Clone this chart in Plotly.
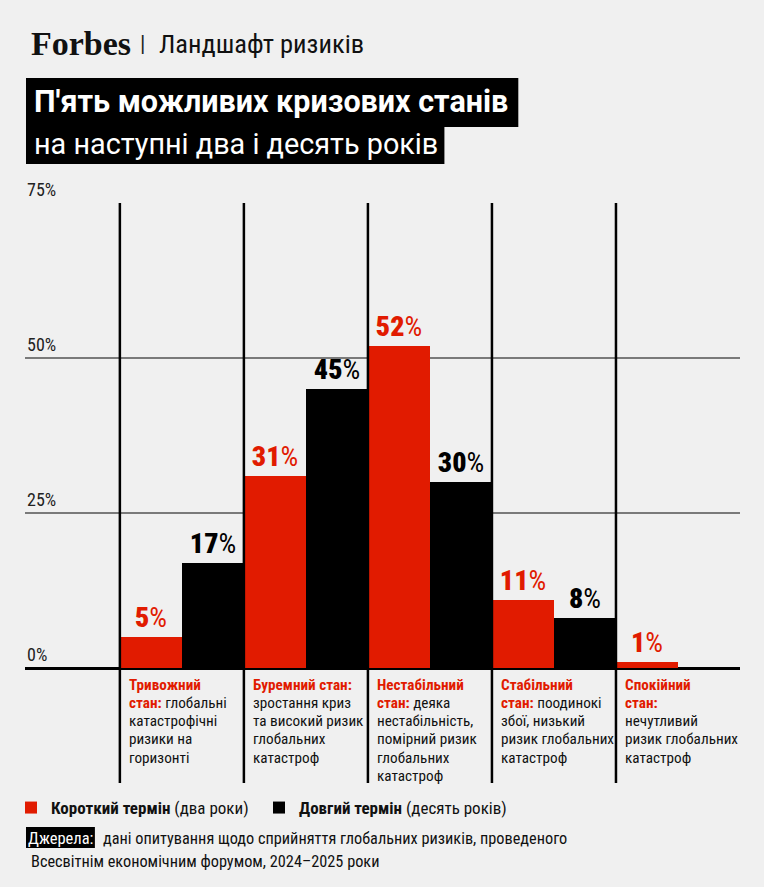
import plotly.graph_objects as go

# ---------------- data ----------------
categories = ["Тривожний стан", "Буремний стан", "Нестабільний стан", "Стабільний стан", "Спокійний стан"]
short_term = [5, 31, 52, 11, 1]      # Короткий термін (два роки)
long_term = [17, 45, 30, 8, 0]       # Довгий термін (десять років)
y_tick_vals = [0, 25, 50, 75]
y_tick_text = ["0%", "25%", "50%", "75%"]

# category descriptions: (red heading part, black part) per line
cat_lines = [
    [("Тривожний", ""), ("стан:", " глобальні"), ("", "катастрофічні"), ("", "ризики на"), ("", "горизонті")],
    [("Буремний стан:", ""), ("", "зростання криз"), ("", "та високий ризик"), ("", "глобальних"), ("", "катастроф")],
    [("Нестабільний", ""), ("стан:", " деяка"), ("", "нестабільність,"), ("", "помірний ризик"), ("", "глобальних"), ("", "катастроф")],
    [("Стабільний", ""), ("стан:", " поодинокі"), ("", "збої, низький"), ("", "ризик глобальних"), ("", "катастроф")],
    [("Спокійний", ""), ("стан:", ""), ("", "нечутливий"), ("", "ризик глобальних"), ("", "катастроф")],
]

RED = "#E11B00"
BLACK = "#000000"
BG = "#F0F0F0"
NARROW = "Liberation Sans Narrow, Roboto Condensed, DejaVu Sans Condensed, sans-serif"

W, H = 764, 887
L, R, T, B = 24, 740, 203, 668       # plot area in pixels
CAT_LEFT = 119
cat_w = (R - CAT_LEFT) / len(categories)
x_lo = -0.5 - (CAT_LEFT - L) / cat_w
x_hi = len(categories) - 0.5


def py(p):
    return (B - p) / (B - T)


def px(p):
    return (p - L) / (R - L)


def val_text(vals):
    return [("" if v == 0 else f"<span style='font-weight:900'>{v}</span>%") for v in vals]


fig = go.Figure()
fig.add_trace(go.Bar(
    x=list(range(len(categories))), y=short_term, name="<b>Короткий термін</b> (два роки)",
    marker=dict(color=RED, line=dict(width=0)),
    text=val_text(short_term), textposition="outside", constraintext="none",
    textfont=dict(family=NARROW, size=28, color=RED), cliponaxis=False,
    legend="legend", hoverinfo="skip",
))
fig.add_trace(go.Bar(
    x=list(range(len(categories))), y=long_term, name="<b>Довгий термін</b> (десять років)",
    marker=dict(color=BLACK, line=dict(width=0)),
    text=val_text(long_term), textposition="outside", constraintext="none",
    textfont=dict(family=NARROW, size=28, color=BLACK), cliponaxis=False,
    legend="legend2", hoverinfo="skip",
))

shapes = []
# vertical category separators
for i in range(len(categories)):
    shapes.append(dict(type="line", xref="x", yref="paper", x0=i - 0.5, x1=i - 0.5,
                       y0=py(783), y1=1, line=dict(color=BLACK, width=2.5), layer="above"))
# title boxes
shapes.append(dict(type="rect", xref="paper", yref="paper", x0=px(25), x1=px(518), y0=py(127), y1=py(78),
                   fillcolor=BLACK, line=dict(width=0)))
shapes.append(dict(type="rect", xref="paper", yref="paper", x0=px(25), x1=px(444), y0=py(164), y1=py(126),
                   fillcolor=BLACK, line=dict(width=0)))
# source label box
shapes.append(dict(type="rect", xref="paper", yref="paper", x0=px(25), x1=px(94), y0=py(848), y1=py(827),
                   fillcolor=BLACK, line=dict(width=0)))

ann = []
# header
ann.append(dict(text="<b>Forbes</b>", x=px(28), y=py(43), xanchor="left", yanchor="middle",
                font=dict(family="Liberation Serif, DejaVu Serif, serif", size=34, color="#111")))
ann.append(dict(text="|", x=px(142), y=py(44), xanchor="center", yanchor="middle",
                font=dict(family=NARROW, size=22, color="#222")))
ann.append(dict(text="Ландшафт ризиків", x=px(156), y=py(44), xanchor="left", yanchor="middle",
                font=dict(family=NARROW, size=26.5, color="#111")))
# title
ann.append(dict(text="<b>П'ять можливих кризових станів</b>", x=px(31), y=py(102), xanchor="left",
                yanchor="middle", font=dict(family="Roboto, sans-serif", size=30.5, color="white")))
ann.append(dict(text="на наступні два і десять років", x=px(31), y=py(144), xanchor="left",
                yanchor="middle", font=dict(family="Roboto, sans-serif", size=28.8, color="white")))
# y tick labels
for v, t in zip(y_tick_vals, y_tick_text):
    ann.append(dict(text=t, xref="paper", yref="y", x=0, y=v, xanchor="left", yanchor="middle",
                    yshift=14, font=dict(family=NARROW, size=18, color="#222")))
# category descriptions
for i, lines in enumerate(cat_lines):
    for k, (red, blk) in enumerate(lines):
        s = ""
        if red:
            s += f"<b><span style='color:{RED}'>{red}</span></b>"
        s += blk
        ann.append(dict(text=s, xref="x", yref="paper", x=i - 0.5, xshift=7, y=py(684.5 + k * 18.33),
                        xanchor="left", yanchor="middle",
                        font=dict(family=NARROW, size=15.2, color="#111")))
# source
ann.append(dict(text="Джерела:", x=px(59.5), y=py(838), xanchor="center", yanchor="middle",
                font=dict(family=NARROW, size=16.5, color="white")))
ann.append(dict(text="дані опитування щодо сприйняття глобальних ризиків, проведеного",
                x=px(100), y=py(838), xanchor="left", yanchor="middle",
                font=dict(family=NARROW, size=16.3, color="#111")))
ann.append(dict(text="Всесвітнім економічним форумом, 2024–2025 роки",
                x=px(28), y=py(861), xanchor="left", yanchor="middle",
                font=dict(family=NARROW, size=16.3, color="#111")))
for a in ann:
    a.setdefault("xref", "paper")
    a.setdefault("yref", "paper")
    a["showarrow"] = False

legend_common = dict(orientation="h", yanchor="middle", bgcolor="rgba(0,0,0,0)", borderwidth=0,
                     font=dict(family=NARROW, size=17, color="#111"), itemwidth=30,
                     itemclick=False, itemdoubleclick=False)

fig.update_layout(
    width=W, height=H,
    margin=dict(l=L, r=W - R, t=T, b=H - B, pad=0),
    paper_bgcolor=BG, plot_bgcolor=BG,
    barmode="group", bargap=0, bargroupgap=0,
    showlegend=True,
    legend=dict(x=px(11), y=py(808), xanchor="left", **legend_common),
    legend2=dict(x=px(259), y=py(808), xanchor="left", **legend_common),
    xaxis=dict(range=[x_lo, x_hi], showticklabels=False, showgrid=False, zeroline=False,
               showline=False, ticks="", fixedrange=True),
    yaxis=dict(range=[0, 75], tickvals=y_tick_vals, showticklabels=False, showgrid=True,
               gridcolor="#7a7a7a", gridwidth=1.5, zeroline=True, zerolinecolor=BLACK,
               zerolinewidth=3, showline=False, ticks="", fixedrange=True),
    shapes=shapes, annotations=ann,
    font=dict(family=NARROW),
)

fig.write_html(
    "out.html",
    config={"displayModeBar": False},
    post_script="document.body.style.margin='0';document.body.style.padding='0';"
                "document.body.style.background='#F0F0F0';document.body.style.overflow='hidden';",
)
